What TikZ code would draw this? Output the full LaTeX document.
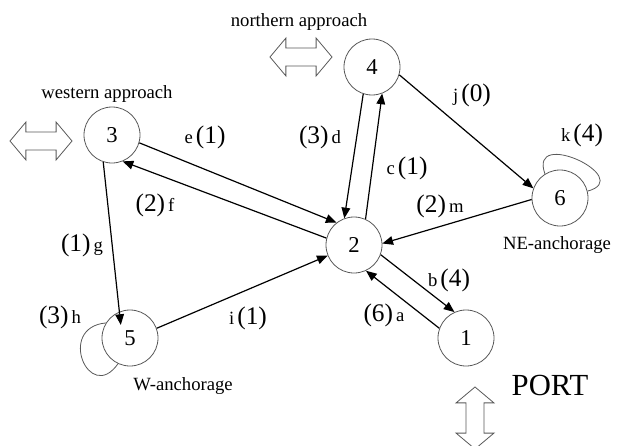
\documentclass[tikz,border=0pt]{standalone}
\usepackage{fontspec}
\setmainfont{Liberation Serif}
\usetikzlibrary{arrows.meta, shapes.arrows, positioning}
\newcommand{\wt}[1]{{\fontsize{19}{21}\selectfont #1}}

\begin{document}
\begin{tikzpicture}[x=0.75pt, y=-0.75pt,
        nd/.style={circle, draw=black!65, line width=0.6pt, minimum size=42pt,
            inner sep=0pt, font=\fontsize{17}{19}\selectfont},
        tr/.style={-{Triangle[length=8pt, width=6.5pt]}, line width=0.9pt},
        lp/.style={draw=black!65, line width=0.6pt},
        lbl/.style={font=\fontsize{14}{16}\selectfont, inner sep=1pt},
        gate/.style={double arrow, draw=black!65, line width=0.6pt, inner sep=6.4pt,
            double arrow head extend=7.5pt, double arrow tip angle=100,
            minimum height=46.5pt}]
        \useasboundingbox (0,0) rectangle (621,446);
        % stations
        \node[nd] (n4) at (372,67) {4};
        \node[nd] (n3) at (112,135) {3};
        \node[nd] (n6) at (560,198) {6};
        \node[nd] (n2) at (354,245) {2};
        \node[nd] (n5) at (130,338) {5};
        \node[nd] (n1) at (466,338) {1};
        % approaches
        \node[gate] (gw) at (41,141) {};
        \node[gate] (gn) at (301,57) {};
        \node[gate, rotate=90] (gp) at (475,418) {};
        \node[lbl] (tw) at (107,94) {western approach};
        \node[lbl] (tn) at (299,22) {northern approach};
        \node[lbl] (tne) at (557,245) {NE-anchorage};
        \node[lbl] (tsw) at (183,386) {W-anchorage};
        \node[font=\fontsize{23}{25}\selectfont] (tp) at (550,385) {PORT};
        % moves
        \draw[tr] (n3.-16) -- (n2.128);
        \draw[tr] (n2.166) -- (n3.-68);
        \draw[tr] (n4.-108) -- (n2.110);
        \draw[tr] (n2.66) -- (n4.-69);
        \draw[tr] (n4.-16) -- (n6.160);
        \draw[tr] (n6.183) -- (n2.3);
        \draw[tr, shorten >=-10pt] (n3.-108) -- (n5.112);
        \draw[tr] (n5.20) -- (n2.202);
        \draw[tr] (n2.-20) -- (n1.114);
        \draw[tr] (n1.160) -- (n2.-65);
        \draw[lp] (n5.148) to[out=185, in=235, looseness=3] (n5.245);
        \draw[lp] (n6.122) to[out=110, in=15, looseness=2.8] (n6.14);
        % weights
        \node[lbl] (le) at (205,137) {e\,\wt{(1)}};
        \node[lbl] (ld) at (320,137) {\wt{(3)}\,d};
        \node[lbl] (lj) at (472,95) {j\,\wt{(0)}};
        \node[lbl] (lk) at (582,135) {k\,\wt{(4)}};
        \node[lbl] (lc) at (407,168) {c\,\wt{(1)}};
        \node[lbl] (lf) at (155,205) {\wt{(2)}\,f};
        \node[lbl] (lm) at (440,206) {\wt{(2)}\,m};
        \node[lbl] (lg) at (82,245) {\wt{(1)}\,g};
        \node[lbl] (lh) at (60,317) {\wt{(3)}\,h};
        \node[lbl] (li) at (248,318) {i\,\wt{(1)}};
        \node[lbl] (lb) at (449,280) {b\,\wt{(4)}};
        \node[lbl] (la) at (384,315) {\wt{(6)}\,a};
    \end{tikzpicture}
\end{document}
